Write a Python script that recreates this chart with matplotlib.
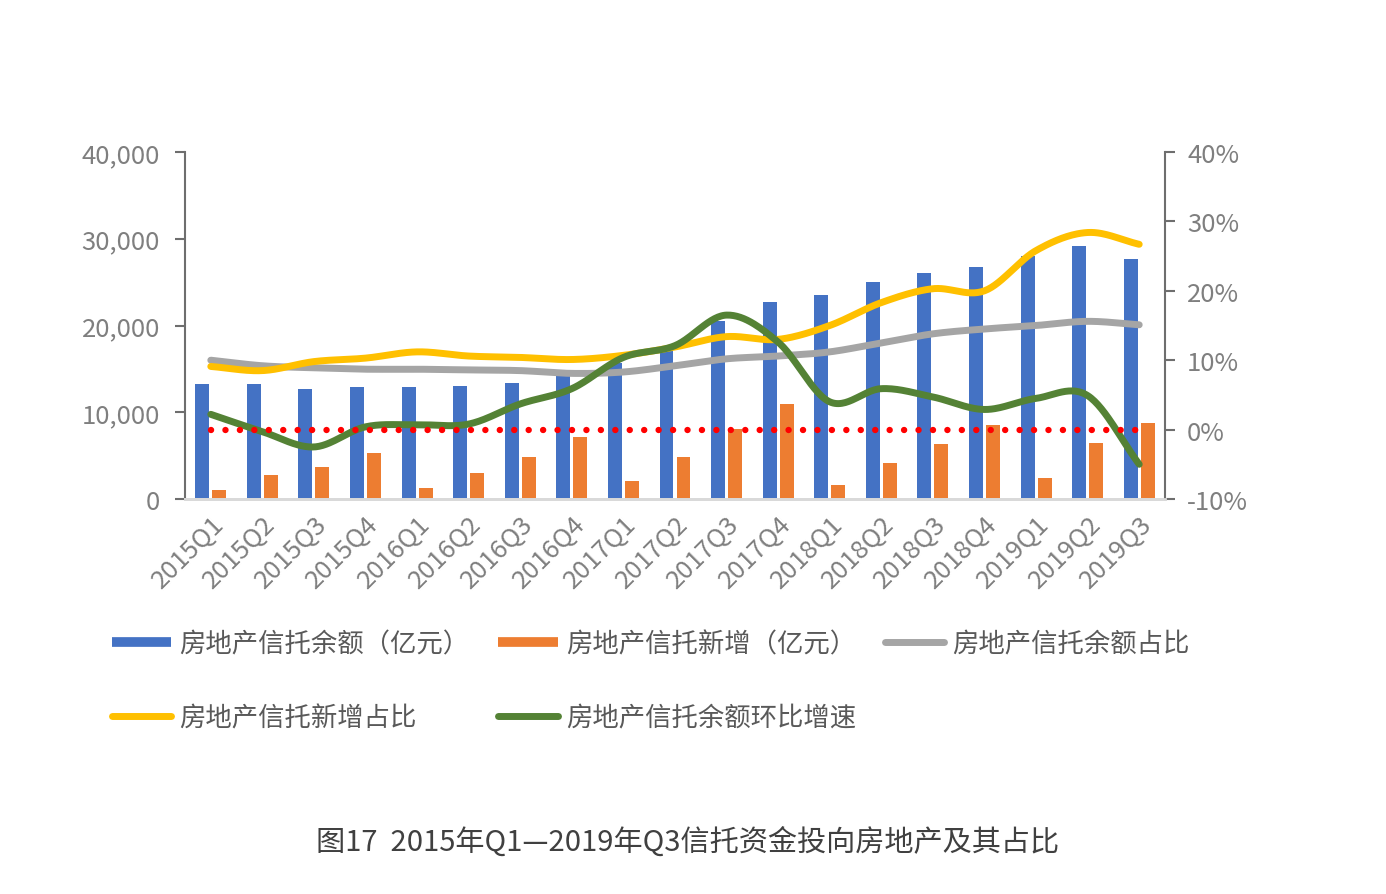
import numpy as np
import matplotlib
matplotlib.use("Agg")
import matplotlib.pyplot as plt
from matplotlib.lines import Line2D
from matplotlib.ticker import FuncFormatter

plt.rcParams['font.family'] = ['Noto Sans CJK SC', 'DejaVu Sans']

categories = ["2015Q1", "2015Q2", "2015Q3", "2015Q4",
              "2016Q1", "2016Q2", "2016Q3", "2016Q4",
              "2017Q1", "2017Q2", "2017Q3", "2017Q4",
              "2018Q1", "2018Q2", "2018Q3", "2018Q4",
              "2019Q1", "2019Q2", "2019Q3"]

balance = [13200, 13200, 12700, 12900, 12900, 13000, 13400, 14400,
           15700, 17400, 20500, 22700, 23500, 25000, 26000, 26700,
           28000, 29200, 27700]
new_add = [1000, 2800, 3650, 5300, 1300, 2950, 4800, 7100,
           2100, 4800, 8100, 11000, 1600, 4150, 6350, 8550,
           2400, 6450, 8750]
balance_share = [10.0, 9.2, 8.9, 8.7, 8.7, 8.6, 8.5, 8.1,
                 8.3, 9.2, 10.2, 10.6, 11.2, 12.5, 13.8, 14.5,
                 15.0, 15.6, 15.1]
new_share = [9.1, 8.5, 9.8, 10.3, 11.2, 10.6, 10.4, 10.1,
             10.7, 11.9, 13.4, 13.0, 15.0, 18.3, 20.3, 20.0,
             25.8, 28.4, 26.7]
balance_growth = [2.2, -0.3, -2.5, 0.4, 0.7, 0.8, 3.7, 5.9,
                  10.4, 12.1, 16.5, 12.6, 4.0, 5.9, 4.7, 2.9,
                  4.5, 4.9, -5.0]
zero_line = [0.0] * len(categories)

left_ticks = [0, 10000, 20000, 30000, 40000]
right_ticks = [-10, 0, 10, 20, 30, 40]

labels = ["房地产信托余额（亿元）", "房地产信托新增（亿元）", "房地产信托余额占比",
          "房地产信托新增占比", "房地产信托余额环比增速"]
title = "图17  2015年Q1—2019年Q3信托资金投向房地产及其占比"

C_BLUE = "#4472C4"
C_ORANGE = "#ED7D31"
C_GRAY = "#A5A5A5"
C_YELLOW = "#FFC000"
C_GREEN = "#548235"
C_RED = "#FF0000"
TICK_C = "#7F7F7F"


def smooth(xs, ys, n=30):
    """Catmull-Rom rendering of a smoothed line through the given points."""
    xs = np.asarray(xs, float)
    ys = np.asarray(ys, float)
    P = np.column_stack([xs, ys])
    P = np.vstack([2 * P[0] - P[1], P, 2 * P[-1] - P[-2]])
    out = []
    t = np.linspace(0, 1, n, endpoint=False)
    for i in range(1, len(P) - 2):
        p0, p1, p2, p3 = P[i - 1], P[i], P[i + 1], P[i + 2]
        t2, t3 = t * t, t * t * t
        seg = 0.5 * ((2 * p1)[None, :] + (-p0 + p2)[None, :] * t[:, None]
                     + (2 * p0 - 5 * p1 + 4 * p2 - p3)[None, :] * t2[:, None]
                     + (-p0 + 3 * p1 - 3 * p2 + p3)[None, :] * t3[:, None])
        out.append(seg)
    out.append(P[-2][None, :])
    out = np.vstack(out)
    return out[:, 0], out[:, 1]


fig = plt.figure(figsize=(13.86, 8.95), dpi=100)
ax = fig.add_axes([185 / 1386, 1 - 500 / 895, 980 / 1386, 347 / 895])
ax2 = ax.twinx()

x = np.arange(len(categories))
bw = 0.27
ax.bar(x - 0.165, balance, width=bw, color=C_BLUE, zorder=2)
ax.bar(x + 0.165, new_add, width=bw, color=C_ORANGE, zorder=2)
ax.set_xlim(-0.5, len(categories) - 0.5)
ax.set_ylim(0, 40000)
ax.set_yticks(left_ticks)
ax.yaxis.set_major_formatter(FuncFormatter(lambda v, p: f"{int(v):,}"))
ax.set_xticks(x)
ax.set_xticklabels(categories, rotation=45, ha='right', rotation_mode='anchor',
                   fontsize=18.5, color=TICK_C, fontweight='light')
ax.tick_params(axis='x', length=0, pad=8)
ax.tick_params(axis='y', length=7, width=1.5, color="#6E6E6E", labelsize=18.5,
               labelcolor=TICK_C, pad=11)

ax2.set_ylim(-10, 40)
ax2.set_yticks(right_ticks)
ax2.yaxis.set_major_formatter(FuncFormatter(lambda v, p: f"{int(v)}%"))
ax2.tick_params(axis='y', length=7, width=1.5, color="#6E6E6E", labelsize=18.5,
                labelcolor=TICK_C, pad=9)
for t in ax.get_yticklabels() + ax2.get_yticklabels():
    t.set_fontweight('light')

for a in (ax, ax2):
    a.spines['top'].set_visible(False)
    a.spines['left'].set_color("#6E6E6E")
    a.spines['right'].set_color("#6E6E6E")
    a.spines['left'].set_linewidth(1.5)
    a.spines['right'].set_linewidth(1.5)
    a.spines['bottom'].set_color("#D9D9D9")
    a.spines['bottom'].set_linewidth(2)
ax.spines['right'].set_visible(False)
ax2.spines['left'].set_visible(False)

sx, sy = smooth(x, balance_share)
ax2.plot(sx, sy, color=C_GRAY, lw=5, solid_capstyle='round', zorder=3)
sx, sy = smooth(x, new_share)
ax2.plot(sx, sy, color=C_YELLOW, lw=5, solid_capstyle='round', zorder=4)
sx, sy = smooth(x, balance_growth)
ax2.plot(sx, sy, color=C_GREEN, lw=5, solid_capstyle='round', zorder=5)
ax2.plot(x, zero_line, color=C_RED, lw=4.6, linestyle=(0, (0.01, 2.25)),
         dash_capstyle='round', zorder=6)

handles = [
    Line2D([], [], color=C_BLUE, lw=7, solid_capstyle='butt'),
    Line2D([], [], color=C_YELLOW, lw=5, solid_capstyle='round'),
    Line2D([], [], color=C_ORANGE, lw=7, solid_capstyle='butt'),
    Line2D([], [], color=C_GREEN, lw=5, solid_capstyle='round'),
    Line2D([], [], color=C_GRAY, lw=5, solid_capstyle='round'),
]
leg_labels = [labels[0], labels[3], labels[1], labels[4], labels[2]]
leg = fig.legend(handles, leg_labels, loc='upper left',
                 bbox_to_anchor=(112 / 1386, 1 - 631 / 895), ncol=3,
                 frameon=False, fontsize=19, borderpad=0, borderaxespad=0,
                 handlelength=2.25, handletextpad=0.3, columnspacing=1.1,
                 labelspacing=1.8)
for t in leg.get_texts():
    t.set_color("#595959")

fig.text(688 / 1386, 1 - 843 / 895, title, ha='center', va='center',
         fontsize=21, color="#404040")

fig.savefig("out.png", dpi=100)
